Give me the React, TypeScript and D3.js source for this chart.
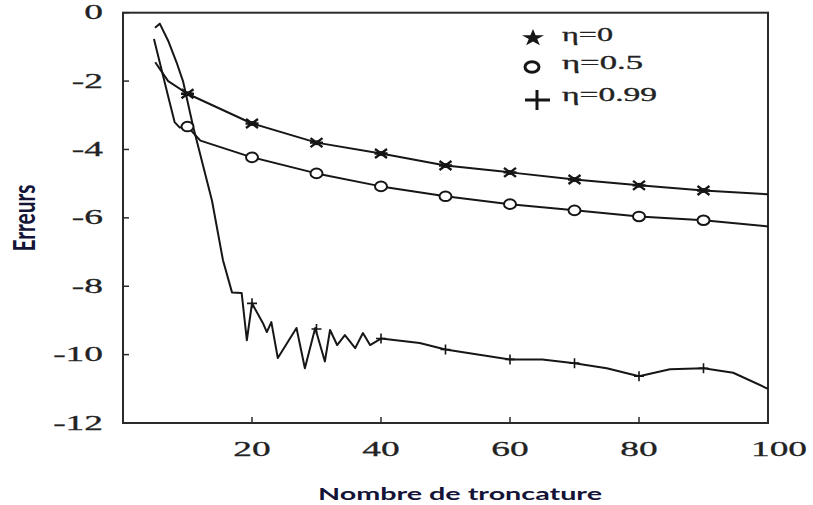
import React from "react";
import * as d3 from "d3";

const W = 813;
const H = 505;

// data (x = truncation number, y = error)
const eta0: [number, number][] = [
  [5, -1.45], [7, -2.0], [10, -2.37], [20, -3.24], [30, -3.8], [40, -4.12],
  [50, -4.47], [60, -4.67], [70, -4.88], [80, -5.05], [90, -5.2], [100, -5.31],
];
const eta05: [number, number][] = [
  [4.8, -0.77], [7.2, -2.6], [8.0, -3.2], [8.8, -3.36], [10, -3.33], [12, -3.74], [20, -4.23],
  [30, -4.7], [40, -5.08], [50, -5.37], [60, -5.6], [70, -5.78], [80, -5.96],
  [90, -6.07], [100, -6.25],
];
const eta099: [number, number][] = [
  [4.96, -0.44], [5.7, -0.32], [7, -0.82], [8.3, -1.45], [9.3, -2.0], [10.9, -3.35],
  [13.8, -5.5], [15.5, -7.24], [16.9, -8.18], [18.4, -8.2], [19.2, -9.58], [20, -8.5],
  [21.7, -9.08], [22.3, -9.34], [23, -9.05], [24, -10.1], [26.9, -9.22], [28.2, -10.4],
  [29.8, -9.22], [31.3, -10.2], [32.1, -9.28], [33.2, -9.72], [34.4, -9.43], [36, -9.81],
  [37.2, -9.37], [38.3, -9.72], [40, -9.53], [46, -9.66], [50, -9.85], [60, -10.14],
  [65, -10.14], [70, -10.25], [75, -10.4], [80, -10.63], [84.8, -10.43], [90, -10.4],
  [94.6, -10.53], [100, -11.0],
];
const markerX = [10, 20, 30, 40, 50, 60, 70, 80, 90];
const eta099Markers: [number, number][] = [
  [20, -8.5], [30, -9.25], [40, -9.53], [50, -9.85], [60, -10.14], [70, -10.25],
  [80, -10.63], [90, -10.4],
];
const xTicks = [20, 40, 60, 80, 100];
const yTicks = [0, -2, -4, -6, -8, -10, -12];
const legendLabels = ["η=0", "η=0.5", "η=0.99"];

const serif = "Liberation Serif";
const sans = "Lato";
const ink = "#161616";

export default function App() {
  const x = d3.scaleLinear().domain([0, 100]).range([123, 768]);
  const y = d3.scaleLinear().domain([-12, 0]).range([423, 12.7]);
  const line = d3
    .line<[number, number]>()
    .x((d) => x(d[0]))
    .y((d) => y(d[1]));

  const m0 = eta0.filter((d) => markerX.includes(d[0]));
  const m05 = eta05.filter((d) => markerX.includes(d[0]));

  const star = (cx: number, cy: number, k: number, key: React.Key) => (
    <g key={key} transform={`translate(${cx},${cy})`} stroke={ink} strokeWidth={2.4} fill="none">
      <path d={`M${-6 * k},${-4.5 * k}L${6 * k},${4.5 * k}M${-6 * k},${4.5 * k}L${6 * k},${-4.5 * k}M${-6.5 * k},0L${6.5 * k},0`} />
      <ellipse rx={3 * k} ry={2.5 * k} fill={ink} stroke="none" />
    </g>
  );

  const legendStar = d3.symbol(d3.symbolStar, 90)();

  return (
    <svg width={W} height={H} style={{ position: "absolute", left: 0, top: 0, background: "#fff" }}>
      <rect width={W} height={H} fill="#fff" />
      {/* frame */}
      <rect x={123} y={12.7} width={645} height={410.3} fill="none" stroke="#2a2a2a" strokeWidth={2} />
      {/* y ticks */}
      {yTicks.map((t) => (
        <g key={"yt" + t}>
          <line x1={123} x2={129} y1={y(t)} y2={y(t)} stroke="#2a2a2a" strokeWidth={1.5} />
          <text
            transform={`translate(103,${y(t) + 6.5}) scale(1.7,1)`}
            textAnchor="end"
            fontFamily={serif}
            fontSize={22}
            fill="#222"
            stroke="#222"
            strokeWidth={0.3}
          >
            {t}
          </text>
        </g>
      ))}
      {/* x ticks */}
      {xTicks.map((t) => (
        <g key={"xt" + t}>
          {t < 100 && <line x1={x(t)} x2={x(t)} y1={423} y2={417} stroke="#2a2a2a" strokeWidth={1.5} />}
          <text
            transform={`translate(${x(t) + (t === 100 ? 11 : 0)},456) scale(1.7,1)`}
            textAnchor="middle"
            fontFamily={serif}
            fontSize={22}
            fill="#222"
            stroke="#222"
            strokeWidth={0.3}
          >
            {t}
          </text>
        </g>
      ))}
      {/* curves */}
      <path d={line(eta0) || ""} fill="none" stroke={ink} strokeWidth={2} strokeLinejoin="round" />
      <path d={line(eta05) || ""} fill="none" stroke={ink} strokeWidth={2} strokeLinejoin="round" />
      <path d={line(eta099) || ""} fill="none" stroke={ink} strokeWidth={2} strokeLinejoin="round" />
      {/* markers */}
      {m0.map((d, i) => star(x(d[0]), y(d[1]), 1, "s" + i))}
      {m05.map((d, i) => (
        <ellipse key={"c" + i} cx={x(d[0])} cy={y(d[1])} rx={6} ry={4.8} fill="#fff" stroke={ink} strokeWidth={2} />
      ))}
      {eta099Markers.map((d, i) => (
        <path
          key={"p" + i}
          d={`M${x(d[0]) - 5},${y(d[1])}h10M${x(d[0])},${y(d[1]) - 5}v10`}
          stroke={ink}
          strokeWidth={1.6}
        />
      ))}
      {/* legend */}
      <path d={legendStar || ""} transform="translate(533,38) scale(1.3,1)" fill={ink} />
      <ellipse cx={532} cy={67} rx={7} ry={5.2} fill="none" stroke={ink} strokeWidth={3} />
      <path d="M525,100h25M537,90v20" stroke={ink} strokeWidth={3} />
      {legendLabels.map((l, i) => (
        <text
          key={l}
          x={562}
          y={[41, 69, 101][i]}
          fontFamily={serif}
          fontSize={18}
          fill="#222"
          stroke="#222"
          strokeWidth={0.3}
          textLength={[51, 81, 95][i]}
          lengthAdjust="spacingAndGlyphs"
        >
          {l}
        </text>
      ))}
      {/* axis titles */}
      <text
        transform="translate(24,218) scale(1.75,1) rotate(-90)"
        textAnchor="middle"
        dy="0.36em"
        fontFamily={sans}
        fontWeight={700}
        fontSize={17}
        fill="#141438"
        textLength={67}
        lengthAdjust="spacingAndGlyphs"
      >
        Erreurs
      </text>
      <text
        x={460}
        y={500}
        textAnchor="middle"
        fontFamily={sans}
        fontWeight={700}
        fontSize={17}
        fill="#141438"
        textLength={284}
        lengthAdjust="spacingAndGlyphs"
      >
        Nombre de troncature
      </text>
    </svg>
  );
}
